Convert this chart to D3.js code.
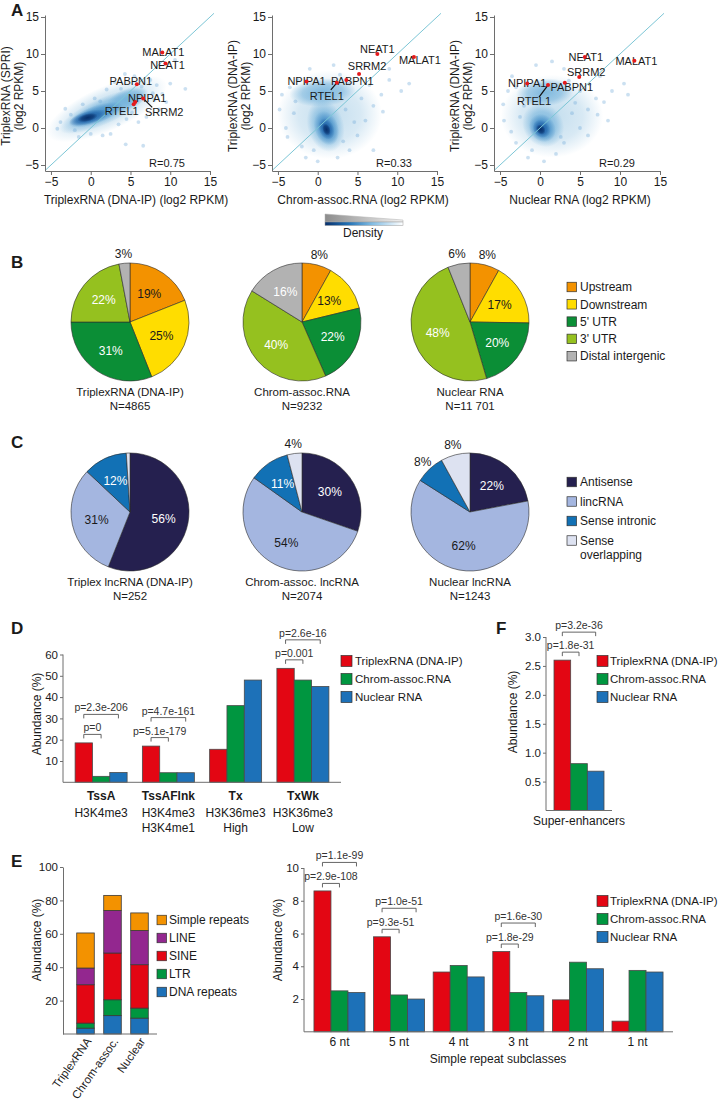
<!DOCTYPE html>
<html><head><meta charset="utf-8">
<script src="https://cdn.jsdelivr.net/npm/d3@7"></script>
<style>
body{margin:0;background:#fff}
svg text{font-family:"Liberation Sans",Arial,Helvetica,sans-serif;fill:#1a1a1a}
</style>
</head><body><script>
// ================= DATA =================
// Panel A (scatter)
const scatterXTitles = ["TriplexRNA (DNA-IP) (log2 RPKM)", "Chrom-assoc.RNA (log2 RPKM)", "Nuclear RNA (log2 RPKM)"];
const scatterYTitles = [["TriplexRNA (SPRI)", "(log2 RPKM)"], ["TriplexRNA (DNA-IP)", "(log2 RPKM)"], ["TriplexRNA (DNA-IP)", "(log2 RPKM)"]];
const scatterTicks = [-5, 0, 5, 10, 15];
const correlations = ["R=0.75", "R=0.33", "R=0.29"];
const geneNames = ["MALAT1", "NEAT1", "PABPN1", "NPIPA1", "RTEL1", "SRRM2"];
const genesA1 = [[9.0, 10.2], [9.4, 8.7], [5.8, 5.9], [5.6, 3.5], [5.4, 3.2], [6.6, 4.0]];
const genesA2 = [[12.1, 9.6], [7.5, 10.0], [3.6, 6.5], [-1.4, 6.3], [2.4, 6.1], [5.2, 7.3]];
const genesA3 = [[11.8, 9.1], [5.6, 9.6], [3.1, 6.1], [-1.6, 6.0], [1.0, 5.8], [4.9, 6.9]];
// density clouds: [cx, cy, rx, ry, tilt(deg), density level 0..4]
const cloudsA1 = [[2.0, 2.6, 8.2, 3.0, -24, 0], [1.6, 2.3, 6.0, 1.8, -24, 1], [4.6, 3.9, 2.8, 1.4, -22, 1], [0.6, 1.8, 3.6, 1.2, -20, 2], [-0.3, 1.4, 2.5, 0.9, -16, 3], [-0.4, 1.4, 1.3, 0.55, -14, 4]];
const cloudsA2 = [[1.5, 1.8, 6.6, 6.0, 0, 0], [0.6, 4.8, 4.2, 1.9, -4, 1], [1.0, 0.3, 2.3, 3.6, -15, 1], [1.1, 0.0, 1.5, 2.4, -18, 2], [1.1, -0.1, 0.95, 1.5, -20, 3], [1.1, -0.2, 0.5, 0.85, -20, 4]];
const cloudsA3 = [[1.5, 1.6, 6.4, 5.6, 0, 0], [0.6, 4.8, 3.6, 1.9, -4, 1], [0.4, 0.4, 2.5, 3.1, -35, 1], [0.3, 0.0, 1.6, 2.0, -35, 2], [0.2, -0.1, 1.05, 1.3, -35, 3], [0.1, -0.2, 0.55, 0.75, -35, 4]];
const sparseA1 = [[4.3, 7.3], [4.4, -2.2], [6.6, -2.4], [10.6, 9.2], [11.9, 5.3], [10, 6], [-2, -0.3], [-4.2, -0.1], [8.6, 2.5], [8.3, 5.8], [3, 6.2], [7.5, 6.5], [-3.2, 2.6], [1.5, -1], [2.5, -0.8], [7, 1.5], [5.5, 7], [9.5, 3.5], [-1, 3.2], [0.5, 4], [3.5, 0.5], [6, 0.8], [-2.5, 1.8], [8, 3.8], [2, 5.2], [-3.8, 0.8], [-1.5, -1.2], [0, -0.8], [4.5, 1.2], [5.2, 2.1], [7.8, 4.7], [6.4, 5.6], [1.2, 3.6], [3.8, 5.3], [9, 4.6]];
const sparseA2 = [[-4.5, 4.5], [-3.5, 5.5], [-3, 2], [-2, -2.5], [-1.5, -4], [0, -4.5], [2.5, -4], [4, -3], [5, -1], [6, 1], [7, 3], [8, 4.5], [9, 6.5], [10.5, 5], [11.5, 6], [6, 8.5], [2, 8.5], [-1, 8], [4, 6], [-4, 0], [3.5, 2.5], [5.5, 4], [7, -3], [-2.5, 6.5], [9, 8], [-4.8, 2.5], [-3.8, -1.2], [3.2, -1.8], [6.5, 5.8], [4.6, 0.8], [-2.8, 3.6], [2.8, 7.2], [8.2, 2.2], [-0.5, -3]];
const sparseA3 = [[-4, 5], [-3, 5.5], [-4.5, 1], [-3, -2], [-1.5, -4], [0.5, -4.5], [2, -3.5], [3, -2], [5, 0], [6, 2.5], [7, 4], [8, 3.5], [9, 5], [10.5, 6], [11, 4.5], [7.5, 7], [3, 8], [-0.5, 8.5], [5, 5], [-2, 3], [4, 2], [6, -1], [8.5, 1], [-3.5, 7], [1.5, 9], [-4.6, 3.2], [-3.6, -0.5], [2.6, -1.2], [6.2, 5.9], [4.4, 3.4], [-2.5, 1.5], [3.6, 6.4], [7.2, 1.8], [-1, -3]];

// Panel B (genomic location pies)
const locCategories = ["Upstream", "Downstream", "5' UTR", "3' UTR", "Distal intergenic"];
const locTriplex = [19, 25, 31, 22, 3];
const locChrom = [8, 13, 22, 40, 16];
const locNuclear = [8, 17, 20, 48, 6];
const locNames = [["TriplexRNA (DNA-IP)", "N=4865"], ["Chrom-assoc.RNA", "N=9232"], ["Nuclear RNA", "N=11 701"]];

// Panel C (lncRNA class pies)
const lncCategories = ["Antisense", "lincRNA", "Sense intronic", "Sense overlapping"];
const lncTriplex = [56, 31, 12, 1];
const lncChrom = [30, 54, 11, 4];
const lncNuclear = [22, 62, 8, 8];
const lncNames = [["Triplex lncRNA (DNA-IP)", "N=252"], ["Chrom-assoc. lncRNA", "N=2074"], ["Nuclear lncRNA", "N=1243"]];

// shared bar series
const seriesNames = ["TriplexRNA (DNA-IP)", "Chrom-assoc.RNA", "Nuclear RNA"];

// Panel D
const dCats = ["TssA", "TssAFlnk", "Tx", "TxWk"];
const dLabels = [["TssA", "H3K4me3"], ["TssAFlnk", "H3K4me3", "H3K4me1"], ["Tx", "H3K36me3", "High"], ["TxWk", "H3K36me3", "Low"]];
const dTriplex = [18.5, 17, 15.5, 53.5];
const dChrom = [2.8, 4.5, 36, 48];
const dNuclear = [4.6, 4.5, 48, 45];
const dTicks = [10, 20, 30, 40, 50, 60];
const dPvals = [["TssA", 2, "p=2.3e-206"], ["TssA", 1, "p=0"], ["TssAFlnk", 2, "p=4.7e-161"], ["TssAFlnk", 1, "p=5.1e-179"], ["TxWk", 2, "p=2.6e-16"], ["TxWk", 1, "p=0.001"]];

// Panel F
const fCats = ["Super-enhancers"];
const fTriplex = [2.6];
const fChrom = [0.81];
const fNuclear = [0.68];
const fTicks = [0.5, 1.0, 1.5, 2.0, 2.5, 3.0];
const fPvals = [["Super-enhancers", 2, "p=3.2e-36"], ["Super-enhancers", 1, "p=1.8e-31"]];

// Panel E (left, stacked)
const eSamples = ["TriplexRNA", "Chrom-assoc.", "Nuclear"];
const repeatClasses = ["DNA repeats", "LTR", "SINE", "LINE", "Simple repeats"];
const eDNA = [3.5, 11, 9.5];
const eLTR = [3, 9.5, 6];
const eSINE = [23, 28, 26];
const eLINE = [10, 25.5, 20.5];
const eSimple = [21, 9, 10.5];
const eTicks = [20, 40, 60, 80, 100];

// Panel E (right)
const srCats = ["6 nt", "5 nt", "4 nt", "3 nt", "2 nt", "1 nt"];
const srTriplex = [8.6, 5.8, 3.65, 4.9, 1.95, 0.65];
const srChrom = [2.5, 2.25, 4.05, 2.4, 4.25, 3.75];
const srNuclear = [2.4, 2.0, 3.35, 2.2, 3.85, 3.65];
const srTicks = [2, 4, 6, 8, 10];
const srPvals = [["6 nt", 2, "p=1.1e-99"], ["6 nt", 1, "p=2.9e-108"], ["5 nt", 2, "p=1.0e-51"], ["5 nt", 1, "p=9.3e-51"], ["3 nt", 2, "p=1.6e-30"], ["3 nt", 1, "p=1.8e-29"]];

// ================= STYLE / LAYOUT =================
const FONT = '"Liberation Sans", Arial, Helvetica, sans-serif';
const seriesColors = ["#e30613", "#009640", "#1d71b8"];
const locColors = ["#f39200", "#ffdd00", "#0b8e36", "#95c11f", "#b2b2b2"];
const locText = ["#1a1a1a", "#1a1a1a", "#fff", "#fff", "#fff"];
const lncColors = ["#25204f", "#a4b6e0", "#1271b5", "#dde2f1"];
const lncText = ["#fff", "#1a1a1a", "#fff", "#1a1a1a"];
const repeatColors = {"DNA repeats": "#1d71b8", "LTR": "#009640", "SINE": "#e30613", "LINE": "#93278f", "Simple repeats": "#f39200"};
const cloudColors = ["#b4d5ea", "#6fb0da", "#3d88c4", "#1c5fa6", "#08306b"];
const cloudOpac = [0.8, 0.85, 0.9, 0.95, 1];
const AX = "#6e6e6e";

const svg = d3.select("body").append("svg").attr("width", 726).attr("height", 1102).attr("font-family", FONT);
svg.append("rect").attr("width", 726).attr("height", 1102).attr("fill", "#fff");
const defs = svg.append("defs");

// panel letters
[["A", 11, 16], ["B", 11, 268], ["C", 11, 448], ["D", 11, 634], ["E", 11, 867], ["F", 496, 634]].forEach(([t, x, y]) => {
  svg.append("text").attr("x", x).attr("y", y).text(t).style("font-size", "17px").style("font-weight", "bold");
});

function styleAxis(g, fs) {
  g.attr("font-family", FONT).attr("font-size", fs);
  g.select(".domain").attr("stroke", AX).attr("stroke-width", 1);
  g.selectAll(".tick line").attr("stroke", AX);
  g.selectAll(".tick text").attr("fill", "#1a1a1a");
}

// ---------- Panel A ----------
cloudColors.forEach((c, i) => {
  const rg = defs.append("radialGradient").attr("id", "cg" + i);
  rg.append("stop").attr("offset", "0%").attr("stop-color", c).attr("stop-opacity", cloudOpac[i]);
  rg.append("stop").attr("offset", "60%").attr("stop-color", c).attr("stop-opacity", cloudOpac[i] * 0.65);
  rg.append("stop").attr("offset", "100%").attr("stop-color", c).attr("stop-opacity", 0);
});

const scatterFrames = [{x0: 45, x1: 210, tx: 136}, {x0: 272, x1: 437, tx: 363}, {x0: 494, x1: 660, tx: 580}];
const labelLayout = [
  {MALAT1: [1, 0], NEAT1: [2, 2], PABPN1: [-6, -3], NPIPA1: [12, -4], RTEL1: [-12, 7], SRRM2: [21, 14, 9, 9]},
  {MALAT1: [6, 3], NEAT1: [0, -5], PABPN1: [6, 1], NPIPA1: [0, 0], RTEL1: [-10, 13, -6, 7], SRRM2: [8, -8]},
  {MALAT1: [2, 0], NEAT1: [1, 0], PABPN1: [7, 4], NPIPA1: [0, 0], RTEL1: [-14, 16, -9, 12], SRRM2: [7, -5]}
];
const allGenes = [genesA1, genesA2, genesA3];
const allClouds = [cloudsA1, cloudsA2, cloudsA3];
const allSparse = [sparseA1, sparseA2, sparseA3];

scatterFrames.forEach((f, i) => {
  const g = svg.append("g");
  const x = d3.scaleLinear().domain([-5.75, 15]).range([f.x0, f.x1]);
  const y = d3.scaleLinear().domain([-5.81, 15.27]).range([171, 15]);
  const kx = x(1) - x(0), ky = y(0) - y(1);
  const clipId = "clipA" + i;
  defs.append("clipPath").attr("id", clipId).append("rect").attr("x", f.x0).attr("y", 15).attr("width", f.x1 - f.x0).attr("height", 156);
  const pg = g.append("g").attr("clip-path", `url(#${clipId})`);
  pg.selectAll("ellipse").data(allClouds[i]).join("ellipse")
    .attr("cx", d => x(d[0])).attr("cy", d => y(d[1]))
    .attr("rx", d => d[2] * kx).attr("ry", d => d[3] * ky)
    .attr("transform", d => `rotate(${d[4]},${x(d[0])},${y(d[1])})`)
    .attr("fill", d => `url(#cg${d[5]})`);
  pg.selectAll("circle.sp").data(allSparse[i]).join("circle").attr("class", "sp")
    .attr("cx", d => x(d[0])).attr("cy", d => y(d[1])).attr("r", 1.9).attr("fill", "#6aa6d6").attr("opacity", 0.35);
  // diagonal
  g.append("line").attr("x1", x(-5.75)).attr("y1", y(-5.75)).attr("x2", x(15.5)).attr("y2", y(15.5))
    .attr("stroke", "#7cc6d6").attr("stroke-width", 1);
  // axes
  const gx = g.append("g").attr("transform", "translate(0,171)")
    .call(d3.axisBottom(x).tickValues(scatterTicks).tickSize(4).tickSizeOuter(0).tickPadding(2));
  styleAxis(gx, 12);
  const gy = g.append("g").attr("transform", `translate(${f.x0},0)`)
    .call(d3.axisLeft(y).tickValues(scatterTicks).tickSize(4).tickSizeOuter(0).tickPadding(2));
  styleAxis(gy, 12);
  g.append("text").attr("x", f.tx).attr("y", 204).attr("text-anchor", "middle").style("font-size", "12px").text(scatterXTitles[i]);
  scatterYTitles[i].forEach((t, j) => {
    g.append("text").attr("transform", `translate(${f.x0 - 39 + j * 13},96) rotate(-90)`).attr("dy", "0.35em")
      .attr("text-anchor", "middle").style("font-size", "12px").text(t);
  });
  g.append("text").attr("x", f.x1 - 43).attr("y", 167).attr("text-anchor", "middle").style("font-size", "11px").text(correlations[i]);
  // genes
  const genes = allGenes[i];
  genes.forEach((d, k) => {
    const name = geneNames[k];
    const L = labelLayout[i][name];
    const px = x(d[0]), py = y(d[1]);
    if (L.length > 2) g.append("line").attr("x1", px).attr("y1", py).attr("x2", px + L[2]).attr("y2", py + L[3]).attr("stroke", "#111").attr("stroke-width", 1.2);
    g.append("text").attr("x", px + L[0]).attr("y", py + L[1]).attr("dy", "0.35em").attr("text-anchor", "middle")
      .style("font-size", "11px").text(name);
  });
  g.selectAll("circle.gene").data(genes).join("circle").attr("class", "gene")
    .attr("cx", d => x(d[0])).attr("cy", d => y(d[1])).attr("r", 2).attr("fill", "#e41a1c");
});

// density legend
{
  const lg = defs.append("linearGradient").attr("id", "greyWedge");
  lg.append("stop").attr("offset", "0%").attr("stop-color", "#8c8c8c");
  lg.append("stop").attr("offset", "100%").attr("stop-color", "#f2f2f2");
  const bg = defs.append("linearGradient").attr("id", "blueBar");
  [["0%", "#08306b"], ["30%", "#2171b5"], ["60%", "#7fbbe3"], ["100%", "#ffffff"]].forEach(([o, c]) => bg.append("stop").attr("offset", o).attr("stop-color", c));
  svg.append("path").attr("d", "M325,214L403,220L403,222L325,222Z").attr("fill", "url(#greyWedge)").attr("stroke", "#b0b0b0").attr("stroke-width", 0.5);
  svg.append("rect").attr("x", 325).attr("y", 222).attr("width", 78).attr("height", 3.5).attr("fill", "url(#blueBar)").attr("stroke", "#9a9a9a").attr("stroke-width", 0.5);
  svg.append("text").attr("x", 363).attr("y", 237).attr("text-anchor", "middle").style("font-size", "12px").text("Density");
}

// ---------- Pies ----------
function drawPie(cx, cy, values, colors, txtColors, names) {
  const r = 59;
  const g = svg.append("g").attr("transform", `translate(${cx},${cy})`);
  const arcs = d3.pie().sort(null).value(d => d)(values);
  const arc = d3.arc().innerRadius(0).outerRadius(r);
  g.selectAll("path").data(arcs).join("path").attr("d", arc)
    .attr("fill", (d, i) => colors[i]).attr("stroke", "#2b2b2b").attr("stroke-width", 0.6);
  arcs.forEach((a, i) => {
    const v = values[i];
    if (v <= 1) return;
    const mid = (a.startAngle + a.endAngle) / 2;
    const inside = v >= 10;
    const rr = inside ? r * 0.58 : r + 10;
    g.append("text").attr("x", Math.sin(mid) * rr).attr("y", -Math.cos(mid) * rr).attr("dy", "0.35em")
      .attr("text-anchor", "middle").style("font-size", "12px")
      .style("fill", inside ? txtColors[i] : "#1a1a1a").text(v + "%");
  });
  names.forEach((t, j) => {
    g.append("text").attr("x", 0).attr("y", r + 15 + j * 14).attr("text-anchor", "middle").style("font-size", "11.5px").text(t);
  });
}
const pieX = [130, 302, 470];
[locTriplex, locChrom, locNuclear].forEach((v, i) => drawPie(pieX[i], 322, v, locColors, locText, locNames[i]));
[lncTriplex, lncChrom, lncNuclear].forEach((v, i) => drawPie(pieX[i], 512, v, lncColors, lncText, lncNames[i]));

function legend(x, ys, labels, colors, size, textX, fs) {
  labels.forEach((l, i) => {
    svg.append("rect").attr("x", x).attr("y", ys[i] - size / 2).attr("width", size).attr("height", size)
      .attr("fill", colors[i]).attr("stroke", "#333").attr("stroke-width", 0.7);
    const lines = Array.isArray(l) ? l : [l];
    lines.forEach((t, j) => svg.append("text").attr("x", textX).attr("y", ys[i] + j * 14).attr("dy", "0.35em").style("font-size", fs).text(t));
  });
}
legend(567, [287, 304.3, 321.6, 338.9, 356.2], locCategories, locColors, 9.5, 580, "12px");
legend(567, [482, 501.5, 521, 540.5], ["Antisense", "lincRNA", "Sense intronic", ["Sense", "overlapping"]], lncColors, 9.5, 580, "12px");

// ---------- Grouped bars ----------
function groupedBars(o) {
  const g = svg.append("g");
  const x0 = d3.scaleBand().domain(o.cats).range(o.xr).paddingInner(o.pi).paddingOuter(o.po);
  const x1 = d3.scaleBand().domain(d3.range(3)).range([0, x0.bandwidth()]);
  const y = o.y;
  o.cats.forEach((c, ci) => {
    o.series.forEach((s, si) => {
      g.append("rect").attr("x", x0(c) + x1(si)).attr("y", y(s[ci])).attr("width", x1.bandwidth()).attr("height", y(0) - y(s[ci]))
        .attr("fill", seriesColors[si]).attr("stroke", "#4a4a4a").attr("stroke-width", 0.8);
    });
  });
  const gy = g.append("g").attr("transform", `translate(${o.xr[0]},0)`)
    .call(d3.axisLeft(y).tickValues(o.ticks).tickSize(3).tickPadding(2).tickSizeOuter(0).tickFormat(o.fmt || (d => d)));
  styleAxis(gy, 11.5);
  gy.select(".domain").attr("d", `M0,${y(0)}V${y.range()[1]}`);
  g.append("line").attr("x1", o.xr[0]).attr("x2", o.xEnd || o.xr[1]).attr("y1", y(0)).attr("y2", y(0)).attr("stroke", AX);
  // p-values
  (o.pvals || []).forEach(([c, k, lab]) => {
    const cxr = x0(c) + x1(0) + x1.bandwidth() / 2;
    const cxk = x0(c) + x1(k) + x1.bandwidth() / 2;
    const inner = y(o.series[0][o.cats.indexOf(c)]) - o.gap1;
    const yy = k === 1 ? inner : inner - o.gap2;
    g.append("path").attr("d", `M${cxr},${yy + 4}V${yy}H${cxk}V${yy + 4}`).attr("fill", "none").attr("stroke", "#555").attr("stroke-width", 0.9);
    g.append("text").attr("x", (cxr + cxk) / 2).attr("y", yy - 3).attr("text-anchor", "middle").style("font-size", "10.5px").style("fill", "#333").text(lab);
  });
  return {g, x0};
}

// D
{
  const y = d3.scaleLinear().domain([0, 60]).range([782.3, 654.5]);
  const {g, x0} = groupedBars({cats: dCats, series: [dTriplex, dChrom, dNuclear], xr: [63, 341], pi: 0.227, po: 0.18, y, ticks: dTicks, pvals: dPvals, gap1: 8.5, gap2: 20});
  dLabels.forEach((ls, i) => {
    const cx = x0(dCats[i]) + x0.bandwidth() / 2;
    const ys = [799.5, 817, 831.5];
    ls.forEach((t, j) => g.append("text").attr("x", cx).attr("y", ys[j]).attr("text-anchor", "middle")
      .style("font-size", "12px").style("font-weight", j === 0 ? "bold" : "normal").text(t));
  });
  g.append("text").attr("transform", "translate(37,714) rotate(-90)").attr("dy", "0.35em").attr("text-anchor", "middle").style("font-size", "12px").text("Abundance (%)");
  legend(341, [661, 679, 697], seriesNames, seriesColors, 11, 355, "11.5px");
}
// F
{
  const y = d3.scaleLinear().domain([0, 3]).range([810.5, 637]);
  const {g, x0} = groupedBars({cats: fCats, series: [fTriplex, fChrom, fNuclear], xr: [546, 612], pi: 0, po: 0.16, y, ticks: fTicks, fmt: d3.format(".1f"), pvals: fPvals, gap1: 8, gap2: 20});
  g.append("text").attr("x", x0(fCats[0]) + x0.bandwidth() / 2).attr("y", 825).attr("text-anchor", "middle").style("font-size", "12px").text(fCats[0]);
  g.append("text").attr("transform", "translate(513,712) rotate(-90)").attr("dy", "0.35em").attr("text-anchor", "middle").style("font-size", "12px").text("Abundance (%)");
  legend(597, [661, 679, 697], seriesNames, seriesColors, 11, 610, "11.5px");
}
// E right
{
  const y = d3.scaleLinear().domain([0, 10]).range([1031.8, 868]);
  const {g, x0} = groupedBars({cats: srCats, series: [srTriplex, srChrom, srNuclear], xr: [304, 673], pi: 0.144, po: 0.167, y, ticks: srTicks, pvals: srPvals, gap1: 7.5, gap2: 21});
  srCats.forEach(c => g.append("text").attr("x", x0(c) + x0.bandwidth() / 2).attr("y", 1046).attr("text-anchor", "middle").style("font-size", "12px").text(c));
  g.append("text").attr("x", 498).attr("y", 1063).attr("text-anchor", "middle").style("font-size", "12px").text("Simple repeat subclasses");
  g.append("text").attr("transform", "translate(278,940) rotate(-90)").attr("dy", "0.35em").attr("text-anchor", "middle").style("font-size", "12px").text("Abundance (%)");
  legend(597, [901, 919, 937], seriesNames, seriesColors, 11, 610, "11.5px");
}
// E left (stacked)
{
  const g = svg.append("g");
  const y = d3.scaleLinear().domain([0, 100]).range([1034, 867]);
  const x = d3.scaleBand().domain(eSamples).range([68, 157]).paddingInner(0.35).paddingOuter(0.323);
  const rows = eSamples.map((s, i) => ({sample: s, "DNA repeats": eDNA[i], "LTR": eLTR[i], "SINE": eSINE[i], "LINE": eLINE[i], "Simple repeats": eSimple[i]}));
  const stack = d3.stack().keys(repeatClasses)(rows);
  stack.forEach(layer => {
    layer.forEach(d => {
      g.append("rect").attr("x", x(d.data.sample)).attr("y", y(d[1])).attr("width", x.bandwidth()).attr("height", y(d[0]) - y(d[1]))
        .attr("fill", repeatColors[layer.key]).attr("stroke", "#3a3a3a").attr("stroke-width", 0.8);
    });
  });
  const gy = g.append("g").attr("transform", "translate(63,0)")
    .call(d3.axisLeft(y).tickValues(eTicks).tickSize(3).tickPadding(2).tickSizeOuter(0));
  styleAxis(gy, 11.5);
  g.append("line").attr("x1", 63).attr("x2", 157).attr("y1", y(0)).attr("y2", y(0)).attr("stroke", AX);
  eSamples.forEach(s => {
    const cx = x(s) + x.bandwidth() / 2 + 3;
    g.append("text").attr("transform", `translate(${cx},1039) rotate(-55)`).attr("dy", "0.35em").attr("text-anchor", "end").style("font-size", "11.5px").text(s);
  });
  g.append("text").attr("transform", "translate(37,940) rotate(-90)").attr("dy", "0.35em").attr("text-anchor", "middle").style("font-size", "12px").text("Abundance (%)");
  const legOrder = repeatClasses.slice().reverse();
  legend(157, [920, 938, 956, 974, 992], legOrder, legOrder.map(k => repeatColors[k]), 9.5, 169, "12px");
}
</script></body></html>
